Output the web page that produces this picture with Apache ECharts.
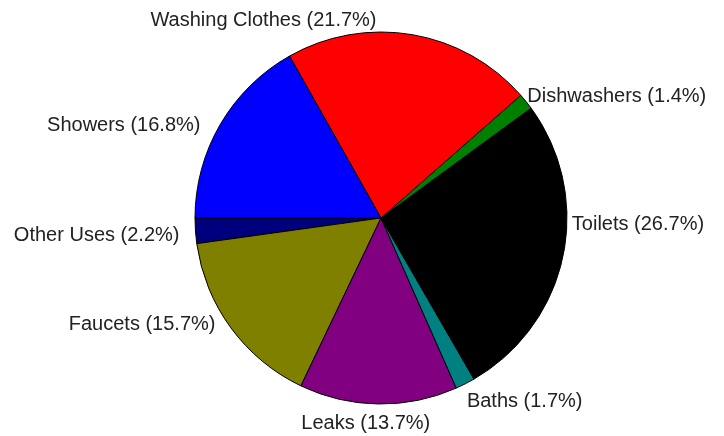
<!DOCTYPE html>
<html>
<head>
<meta charset="utf-8">
<script src="https://cdn.jsdelivr.net/npm/echarts@6/dist/echarts.min.js"></script>
<style>
html, body { margin: 0; padding: 0; background: #fff; }
#main { width: 724px; height: 436px; }
</style>
</head>
<body>
<div id="main"></div>
<script>
// slices listed counter-clockwise, starting at 9 o'clock
var names = ['Other Uses', 'Faucets', 'Leaks', 'Baths', 'Toilets', 'Dishwashers', 'Washing Clothes', 'Showers'];
var values = [2.2, 15.7, 13.7, 1.7, 26.7, 1.4, 21.7, 16.8];
var colors = ['#00007f', '#808000', '#800080', '#008080', '#000000', '#008000', '#ff0000', '#0000ff'];

var pieData = [];
for (var i = 0; i < names.length; i++) {
	pieData.push({
		name: names[i],
		value: values[i],
		itemStyle: { color: colors[i] }
	});
}

// small nudges so the labels sit where the original put them
var labelNudge = {
	'Other Uses': [-3, 4],
	'Faucets': [-4, -8],
	'Leaks': [57, 12],
	'Baths': [-7, 11],
	'Toilets': [-4, -33],
	'Dishwashers': [-10, 0],
	'Washing Clothes': [-268, -6],
	'Showers': [-8, 5]
};

var myChart = echarts.init(document.getElementById('main'));
var option = {
	animation: false,
	backgroundColor: '#fff',
	series: [{
		type: 'pie',
		center: [381, 218],
		radius: 186,
		startAngle: 180,
		clockwise: false,
		avoidLabelOverlap: false,
		itemStyle: {
			borderColor: '#000',
			borderWidth: 1
		},
		label: {
			show: true,
			position: 'outside',
			color: '#222',
			fontFamily: 'Liberation Sans, Arial, sans-serif',
			fontSize: 20,
			formatter: function (p) {
				return p.name + ' (' + p.value + '%)';
			}
		},
		labelLine: {
			show: false,
			length: 8,
			length2: 0
		},
		labelLayout: function (params) {
			var n = labelNudge[names[params.dataIndex]];
			return { dx: n[0], dy: n[1] };
		},
		emphasis: { disabled: true },
		data: pieData
	}]
};
myChart.setOption(option);
</script>
</body>
</html>
